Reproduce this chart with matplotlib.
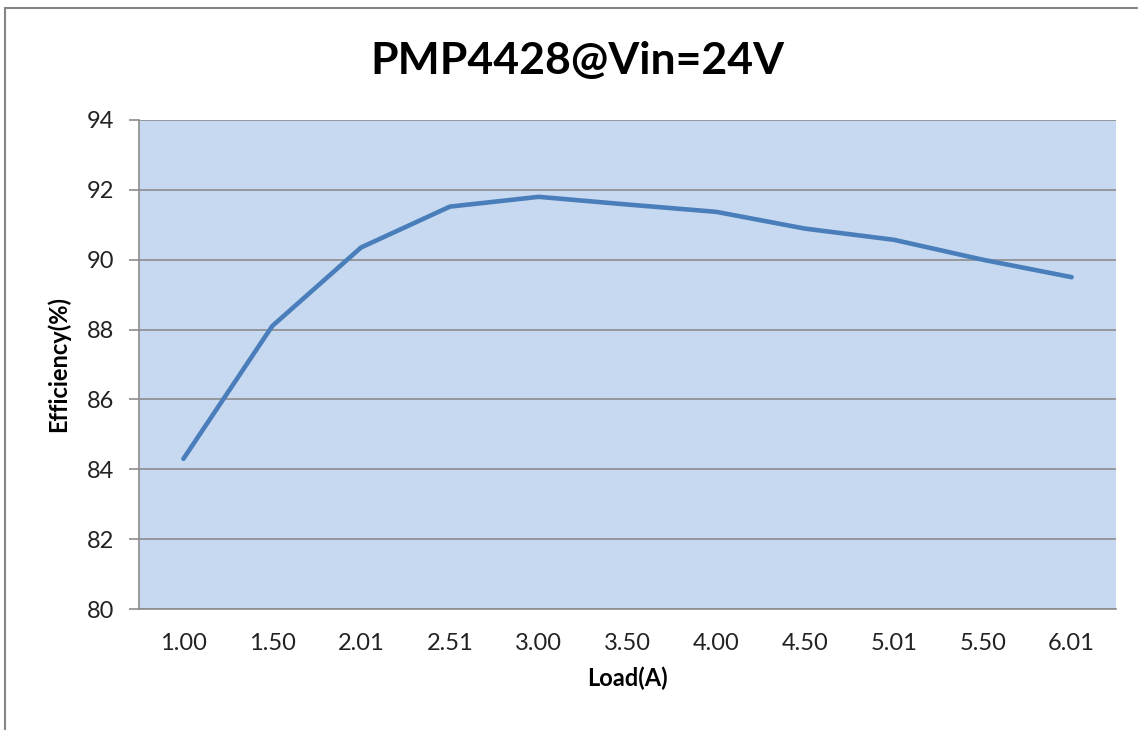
import matplotlib
matplotlib.use('Agg')
import matplotlib.pyplot as plt
from matplotlib.patches import Rectangle

plt.rcParams['font.family'] = ['Lato', 'DejaVu Sans']

# Data
loads = ['1.00', '1.50', '2.01', '2.51', '3.00', '3.50', '4.00', '4.50', '5.01', '5.50', '6.01']
efficiency = [84.3, 88.1, 90.35, 91.52, 91.8, 91.58, 91.37, 90.89, 90.57, 90.0, 89.5]
y_ticks = [80, 82, 84, 86, 88, 90, 92, 94]

W, H = 1138, 730
fig = plt.figure(figsize=(W / 100, H / 100), dpi=100)

# outer chart border (cropped on right and bottom)
fig.patches.append(Rectangle((5 / W, -0.05), 1.1, 1 - 8 / H + 0.05, transform=fig.transFigure,
                             fill=False, edgecolor='#868686', linewidth=1.5))

ax = fig.add_axes([139 / W, 1 - 609 / H, (1116 - 139) / W, (609 - 120) / H])
ax.set_facecolor('#C6D9F1')

x = list(range(len(loads)))
ax.plot(x, efficiency, color='#4A7EBB', linewidth=3.3, solid_capstyle='round', zorder=3)

ax.set_xlim(-0.5, len(loads) - 0.5)
ax.set_ylim(80, 94)
ax.set_yticks(y_ticks)
ax.set_xticks(x)
ax.set_xticklabels(loads)

ax.yaxis.grid(True, color='#8C8C8C', linewidth=1.2)
ax.set_axisbelow(True)

for s in ['top', 'right']:
    ax.spines[s].set_visible(False)
for s in ['left', 'bottom']:
    ax.spines[s].set_color('#8C8C8C')
    ax.spines[s].set_linewidth(1.2)

ax.tick_params(axis='y', length=7, width=1.2, color='#8C8C8C', pad=11, labelsize=17, labelcolor='#222222')
ax.tick_params(axis='x', length=0, pad=17, labelsize=17, labelcolor='#222222')

ax.set_xlabel('Load(A)', fontsize=17, fontweight='bold', labelpad=9)
ax.set_ylabel('Efficiency(%)', fontsize=17, fontweight='bold', labelpad=12)

fig.text(577 / W, 1 - 61 / H, 'PMP4428@Vin=24V', ha='center', va='center',
         fontsize=32, fontweight='bold')

fig.savefig('out.png', dpi=100)
